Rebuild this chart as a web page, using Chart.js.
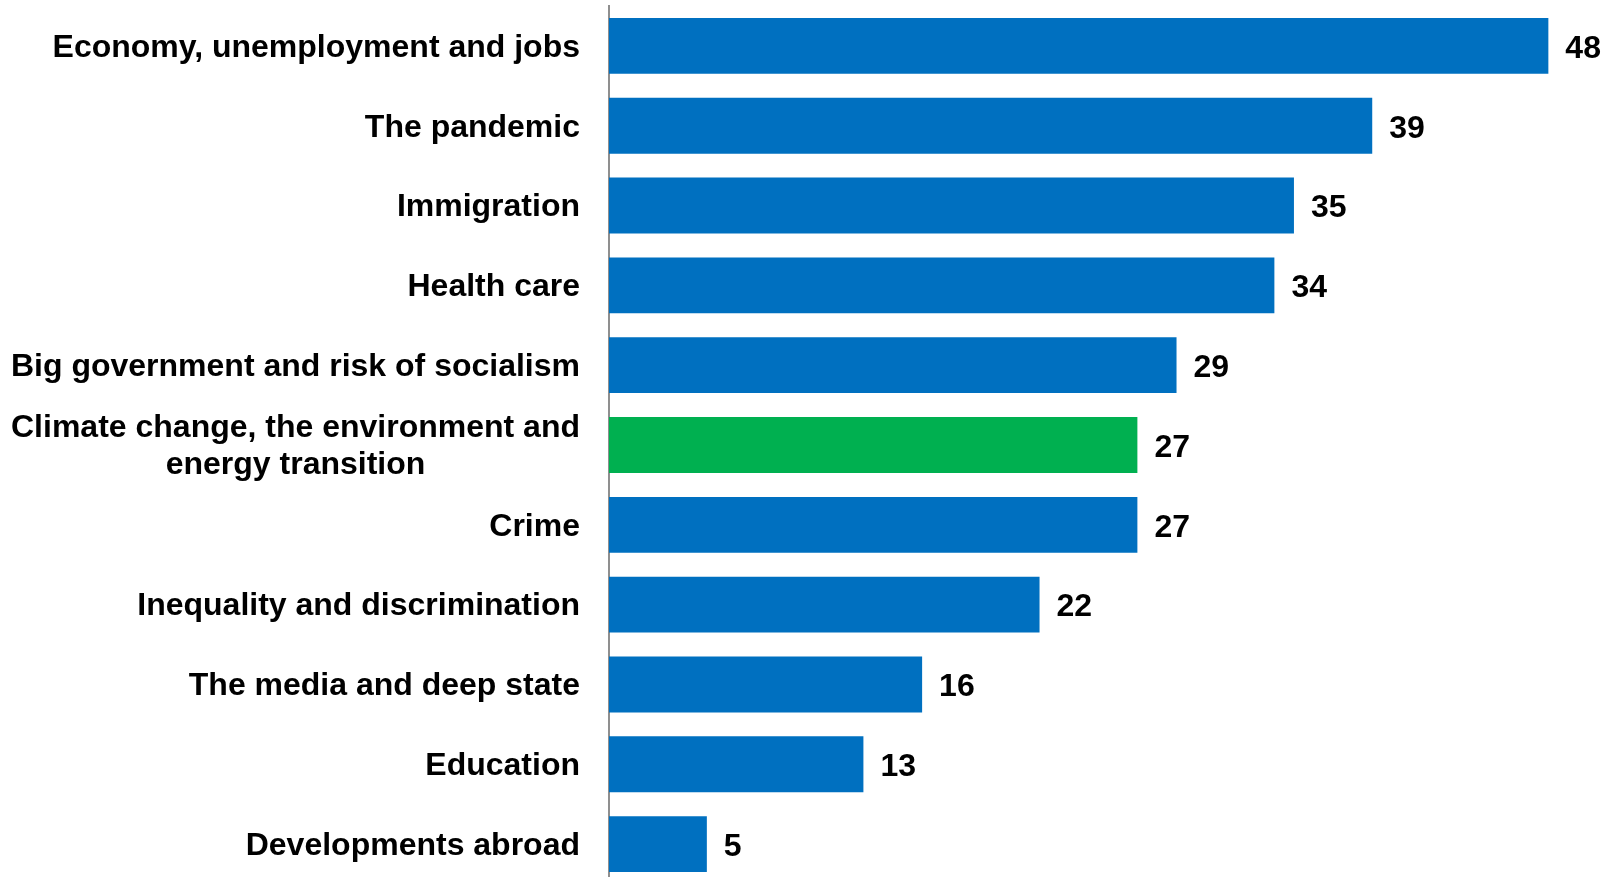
<!DOCTYPE html>
<html>
<head>
<meta charset="utf-8">
<script src="https://cdn.jsdelivr.net/npm/chart.js@4"></script>
<style>
  html, body { margin: 0; padding: 0; background: #fff; overflow: hidden; }
  #wrap { position: relative; width: 1606px; height: 886px; }
</style>
</head>
<body>
<div id="wrap"><canvas id="chart"></canvas></div>
<script>
// categories (multi-line labels as arrays)
const categories = [
    'Economy, unemployment and jobs',
    'The pandemic',
    'Immigration',
    'Health care',
    'Big government and risk of socialism',
    ['Climate change, the environment and', 'energy transition'],
    'Crime',
    'Inequality and discrimination',
    'The media and deep state',
    'Education',
    'Developments abroad'
];
const values = [48, 39, 35, 34, 29, 27, 27, 22, 16, 13, 5];
const barColors = ['#0070C0', '#0070C0', '#0070C0', '#0070C0', '#0070C0', '#00B050',
                   '#0070C0', '#0070C0', '#0070C0', '#0070C0', '#0070C0'];

const FONT = "bold 32px 'Liberation Sans', Arial, sans-serif";

// 分类标签：整体右对齐，多行时各行居中
const labelPlugin = {
    id: 'catLabels',
    afterDraw(chart) {
        const ctx = chart.ctx;
        const yScale = chart.scales.y;
        const right = 580;
        ctx.save();
        ctx.font = FONT;
        ctx.fillStyle = '#000';
        ctx.textBaseline = 'middle';
        categories.forEach((lab, i) => {
            const y = yScale.getPixelForTick(i) + 2;
            const lines = Array.isArray(lab) ? lab : [lab];
            const widths = lines.map(l => ctx.measureText(l).width);
            const maxW = Math.max(...widths);
            const lh = 37;
            lines.forEach((l, j) => {
                const ly = y + (j - (lines.length - 1) / 2) * lh;
                ctx.textAlign = 'center';
                ctx.fillText(l, right - maxW / 2, ly);
            });
        });
        ctx.restore();
    }
};

// 数值标签
const valuePlugin = {
    id: 'valueLabels',
    afterDatasetsDraw(chart) {
        const ctx = chart.ctx;
        const meta = chart.getDatasetMeta(0);
        ctx.save();
        ctx.font = FONT;
        ctx.fillStyle = '#000';
        ctx.textAlign = 'left';
        ctx.textBaseline = 'middle';
        meta.data.forEach((bar, i) => {
            ctx.fillText(String(values[i]), bar.x + 17, bar.y + 3);
        });
        ctx.restore();
    }
};

new Chart(document.getElementById('chart'), {
    type: 'bar',
    data: {
        labels: categories,
        datasets: [{
            data: values,
            backgroundColor: barColors,
            borderWidth: 0,
            barPercentage: 0.70,
            categoryPercentage: 1.0
        }]
    },
    options: {
        indexAxis: 'y',
        responsive: true,
        maintainAspectRatio: false,
        animation: false,
        layout: { padding: { left: 0, top: 6, right: 18.5, bottom: 2 } },
        plugins: { legend: { display: false }, tooltip: { enabled: false } },
        scales: {
            x: { display: false, min: 0, max: 50 },
            y: {
                ticks: { display: false },
                grid: { display: false },
                border: { display: true, color: '#8f8f8f', width: 2 },
                afterFit(scale) { scale.width = 609; }
            }
        }
    },
    plugins: [labelPlugin, valuePlugin]
});
</script>
</body>
</html>
